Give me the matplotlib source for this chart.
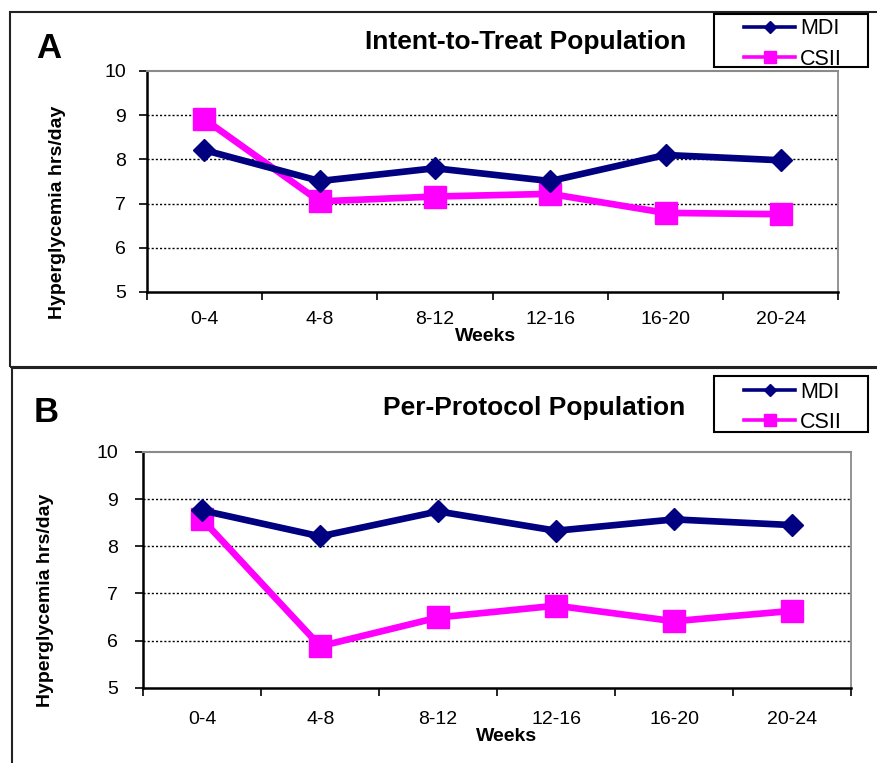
import matplotlib
matplotlib.use('Agg')
import matplotlib.pyplot as plt
from matplotlib.lines import Line2D
from matplotlib.patches import Rectangle

plt.rcParams['font.family'] = ['Liberation Sans', 'DejaVu Sans']

# данные
weeks = ['0-4', '4-8', '8-12', '12-16', '16-20', '20-24']
mdi_itt = [8.21, 7.51, 7.80, 7.51, 8.10, 7.98]
csii_itt = [8.91, 7.05, 7.16, 7.22, 6.79, 6.76]
mdi_pp = [8.76, 8.21, 8.74, 8.33, 8.57, 8.45]
csii_pp = [8.57, 5.88, 6.49, 6.74, 6.41, 6.63]

W, H = 878, 763
NAVY = '#000080'
PINK = '#ff00ff'

fig = plt.figure(figsize=(W / 100, H / 100), dpi=100)


def px(x, y):
    # пиксели -> доли фигуры
    return x / W, 1 - y / H


def box(l, t, r, b, **kw):
    x0, y0 = px(l, b)
    fig.add_artist(Rectangle((x0, y0), (r - l) / W, (b - t) / H,
                             transform=fig.transFigure, fill=False, **kw))


def panel(rect, mdi, csii, title, letter, title_xy, letter_xy, weeks_xy,
          ylab_xy, leg_box, xpad, ypad):
    l, t, r, b = rect
    ax = fig.add_axes([l / W, 1 - b / H, (r - l) / W, (b - t) / H])
    x = range(len(weeks))
    ax.plot(x, mdi, color=NAVY, lw=4.8, marker='D', ms=11.3, mec=NAVY, zorder=4)
    ax.plot(x, csii, color=PINK, lw=4.8, marker='s', ms=16, mec=PINK, zorder=3)
    ax.set_xlim(-0.5, len(weeks) - 0.5)
    ax.set_ylim(5, 10)
    ax.set_yticks([5, 6, 7, 8, 9, 10])
    ax.set_xticks([i - 0.5 for i in range(len(weeks) + 1)])
    ax.set_xticklabels([])
    ax.set_xticks(list(x), minor=True)
    ax.set_xticklabels(weeks, minor=True)
    ax.tick_params(axis='x', which='major', direction='out', length=6, width=1.2)
    ax.tick_params(axis='x', which='minor', length=0, pad=xpad, labelsize=14)
    ax.tick_params(axis='y', direction='out', length=6, width=1.2, pad=ypad,
                   labelsize=14)
    for v in [6, 7, 8, 9]:
        ax.axhline(v, color='black', lw=1, ls=(0, (1.5, 1.5)), zorder=1)
    ax.spines['left'].set_linewidth(1.8)
    ax.spines['bottom'].set_linewidth(1.8)
    ax.spines['top'].set_color('#8a8a8a')
    ax.spines['right'].set_color('#8a8a8a')
    ax.spines['top'].set_linewidth(1.5)
    ax.spines['right'].set_linewidth(1.3)

    fx, fy = px(*title_xy)
    fig.text(fx, fy, title, fontsize=19, fontweight='bold', ha='center', va='baseline')
    fx, fy = px(*letter_xy)
    fig.text(fx, fy, letter, fontsize=25, fontweight='bold', ha='center', va='baseline')
    fx, fy = px(*weeks_xy)
    fig.text(fx, fy, 'Weeks', fontsize=14, fontweight='bold', ha='center', va='baseline')
    fx, fy = px(*ylab_xy)
    fig.text(fx, fy, 'Hyperglycemia hrs/day', fontsize=14, fontweight='bold',
             rotation=90, ha='center', va='center')

    # легенда: рамка отдельно, как в Excel
    bl, bt, br, bb = leg_box
    box(bl, bt, br, bb, edgecolor='black', lw=1.5, zorder=10)
    handles = [Line2D([], [], color=NAVY, lw=2.6, marker='D', ms=6.5),
               Line2D([], [], color=PINK, lw=2.6, marker='s', ms=9)]
    fx, fy = px(bl + 30, (bt + bb) / 2 + 3.5)
    leg = ax.legend(handles, ['MDI', 'CSII'], loc='center left', bbox_to_anchor=(fx, fy),
                    bbox_transform=fig.transFigure, fontsize=15.5, frameon=False,
                    handlelength=2.37, handletextpad=0.23, labelspacing=0.42,
                    borderpad=0, borderaxespad=0)
    leg.set_zorder(10)
    return ax


panel((146.7, 71, 838.5, 292), mdi_itt, csii_itt, 'Intent-to-Treat Population', 'A',
      (526, 48.5), (49, 58), (485.5, 341), (57, 212.5), (714, 14, 868, 67), 14, 9)
panel((143.3, 452, 851, 687.7), mdi_pp, csii_pp, 'Per-Protocol Population', 'B',
      (534, 414.5), (46.5, 421.7), (507, 740.7), (46, 600), (714, 376, 868, 432), 17, 12)

# рамки панелей
box(10, 12, 1000, 367, edgecolor='#222222', lw=1.5)
box(12, 368, 1000, 800, edgecolor='#222222', lw=1.5)

plt.savefig('out.png', dpi=100)
